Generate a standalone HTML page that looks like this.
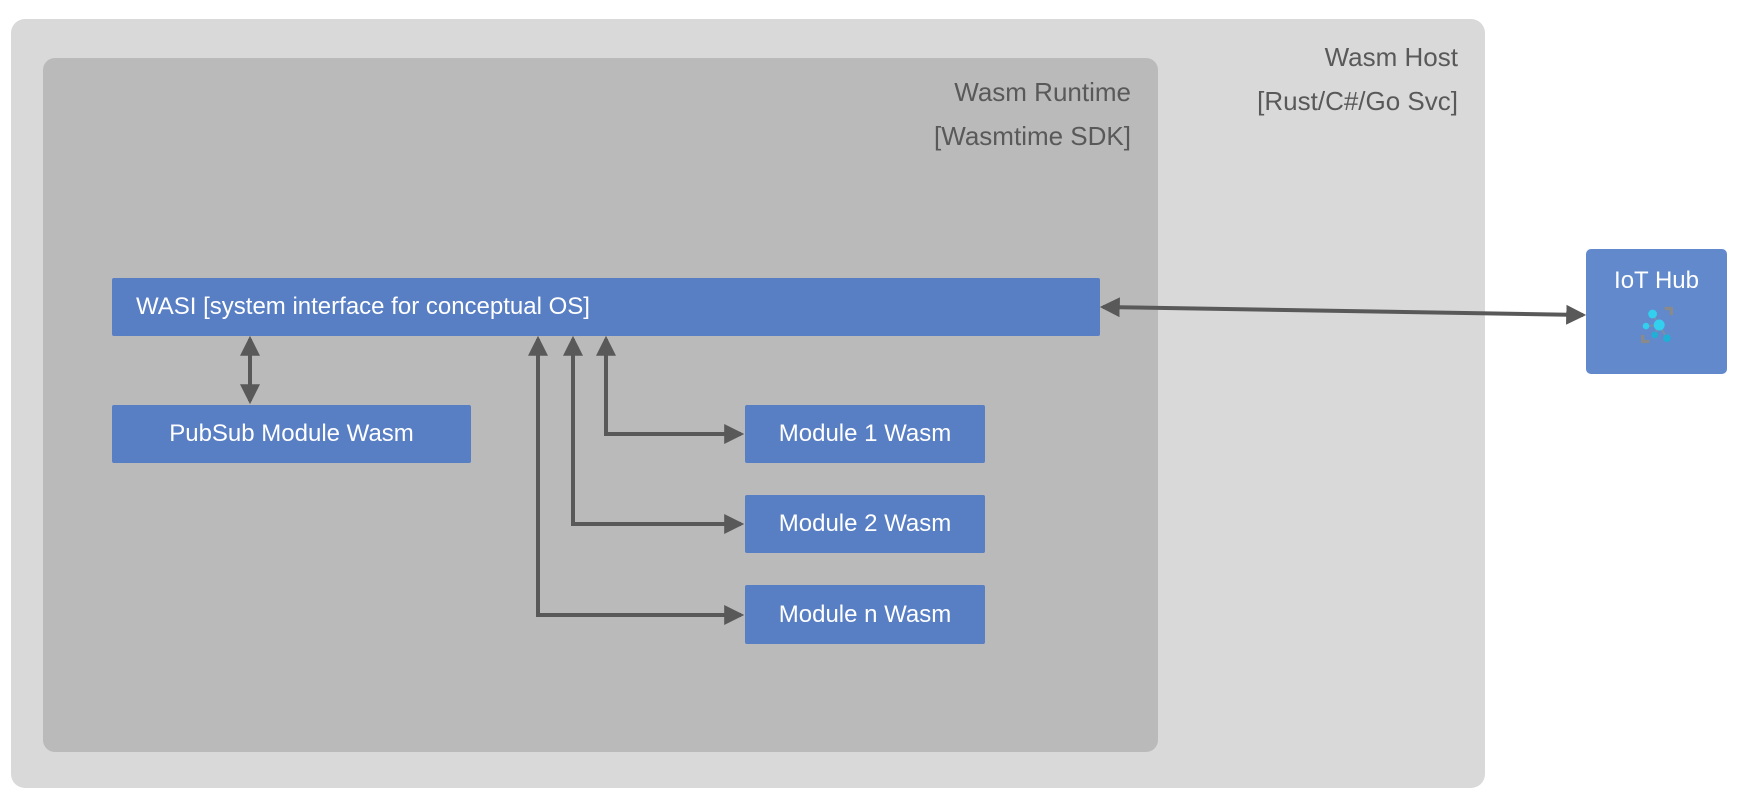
<!DOCTYPE html>
<html><head><meta charset="utf-8"><style>
body{margin:0;width:1738px;height:805px;background:#fff;position:relative;overflow:hidden;font-family:"Segoe UI","Liberation Sans",sans-serif}
.a{position:absolute;box-sizing:border-box}
.b{background:#587ec4;color:#fff;font-size:24px;display:flex;align-items:center;justify-content:center;border-radius:2px}
.t{color:#595959;font-size:26px;text-align:right;line-height:44px}
</style></head><body>
<div class="a" style="left:11px;top:19px;width:1474px;height:769px;background:#d9d9d9;border-radius:14px"></div>
<div class="a t" style="left:1100px;top:35px;width:358px">Wasm Host<br>[Rust/C#/Go Svc]</div>
<div class="a" style="left:43px;top:58px;width:1115px;height:694px;background:#bababa;border-radius:12px"></div>
<div class="a t" style="left:800px;top:70px;width:331px">Wasm Runtime<br>[Wasmtime SDK]</div>
<div class="a b" style="left:112px;top:278px;width:988px;height:58px;justify-content:flex-start;padding-left:24px">WASI [system interface for conceptual OS]</div>
<div class="a b" style="left:112px;top:405px;width:359px;height:58px">PubSub Module Wasm</div>
<div class="a b" style="left:745px;top:405px;width:240px;height:58px">Module 1 Wasm</div>
<div class="a b" style="left:745px;top:495px;width:240px;height:58px">Module 2 Wasm</div>
<div class="a b" style="left:745px;top:585px;width:240px;height:59px">Module n Wasm</div>
<div class="a" style="left:1586px;top:249px;width:141px;height:125px;background:#6189cc;border-radius:5px;color:#fff;font-size:24px;text-align:center;padding-top:18px">IoT Hub
<svg width="44" height="44" viewBox="0 0 40 40" style="display:block;margin:8px auto 0">
<path d="M27 5h6v6" stroke="#8a8a8a" stroke-width="3" fill="none"/><path d="M13 35H7v-6" stroke="#8a8a8a" stroke-width="3" fill="none"/>
<g stroke="#7f8fa0" stroke-width="1.5"><line x1="22" y1="20" x2="16" y2="10"/><line x1="22" y1="20" x2="10" y2="21"/><line x1="22" y1="20" x2="18" y2="29"/><line x1="22" y1="20" x2="29" y2="32"/></g>
<circle cx="16" cy="10" r="4" fill="#32cfee"/><circle cx="22" cy="20" r="5" fill="#32cfee"/><circle cx="10" cy="21" r="3" fill="#32cfee"/><circle cx="18" cy="29" r="3" fill="#1fb0d6"/><circle cx="29" cy="32" r="3.5" fill="#1fb0d6"/>
</svg></div>
<svg class="a" style="left:0;top:0" width="1738" height="805">
<defs><marker id="m" markerWidth="5" markerHeight="5" refX="4.2" refY="2.5" orient="auto-start-reverse" markerUnits="strokeWidth"><path d="M0,0L5,2.5L0,5z" fill="#595959"/></marker></defs>
<g stroke="#595959" stroke-width="4" fill="none">
<line x1="250" y1="339" x2="250" y2="401" marker-start="url(#m)" marker-end="url(#m)"/>
<polyline points="606,339 606,434 741,434" marker-start="url(#m)" marker-end="url(#m)"/>
<polyline points="573,339 573,524 741,524" marker-start="url(#m)" marker-end="url(#m)"/>
<polyline points="538,339 538,615 741,615" marker-start="url(#m)" marker-end="url(#m)"/>
<line x1="1103" y1="307" x2="1583" y2="315" marker-start="url(#m)" marker-end="url(#m)"/>
</g></svg>
</body></html>
